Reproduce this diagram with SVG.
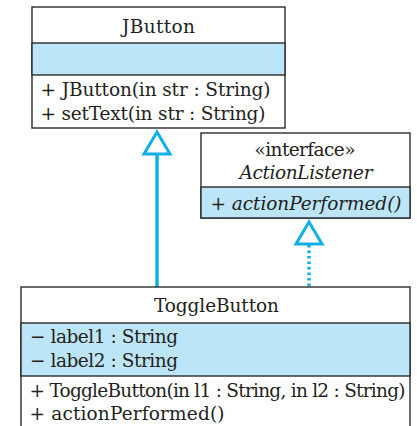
<svg xmlns="http://www.w3.org/2000/svg" width="417" height="426" viewBox="0 0 417 426">
<style>
.box{fill:#fff;stroke:#2b2b2b;stroke-width:1.4}
.band{fill:#bde5f8;stroke:#2b2b2b;stroke-width:1.4}
text{font-family:'DejaVu Serif','Liberation Serif',serif;font-size:18.5px;fill:#231f20}
.c{text-anchor:middle}
.i{font-style:italic}
.conn{stroke:#0fb0ea;stroke-width:3.5;fill:none}
.head{stroke:#0fb0ea;stroke-width:3;fill:#fff}
</style>
<rect width="417" height="426" fill="#fff"/>
<g id="connectors">
<line class="conn" x1="157" y1="153" x2="157" y2="287"/>
<polygon class="head" points="157,132 144,154 170,154"/>
<line class="conn" x1="309" y1="245" x2="309" y2="289" stroke-width="2.5" stroke-dasharray="2.5 3"/>
<polygon class="head" points="309,222 296,244 322,244"/>
</g>
<g id="JButton">
<rect class="box" x="32" y="7" width="253" height="121"/>
<rect class="band" x="32" y="43" width="253" height="32"/>
<text class="c" x="158.5" y="33" textLength="73">JButton</text>
<text x="40.5" y="96" textLength="230">+ JButton(in str : String)</text>
<text x="40.5" y="120" textLength="225">+ setText(in str : String)</text>
</g>
<g id="ActionListener">
<rect class="box" x="201" y="133" width="209" height="85"/>
<rect class="band" x="201" y="187" width="209" height="31"/>
<text class="c" x="305" y="156" textLength="101">«interface»</text>
<text class="c i" x="306" y="179" textLength="133">ActionListener</text>
<text class="i" x="210.5" y="210" textLength="191">+ actionPerformed()</text>
</g>
<g id="ToggleButton">
<rect class="box" x="21" y="287" width="389" height="145"/>
<rect class="band" x="21" y="323" width="389" height="53"/>
<text class="c" x="216.5" y="312" textLength="125">ToggleButton</text>
<text x="30" y="343" textLength="148">− label1 : String</text>
<text x="30" y="366.5" textLength="148">− label2 : String</text>
<text x="29.5" y="397" textLength="376">+ ToggleButton(in l1 : String, in l2 : String)</text>
<text x="29.5" y="419.5" textLength="195">+ actionPerformed()</text>
</g>
</svg>
